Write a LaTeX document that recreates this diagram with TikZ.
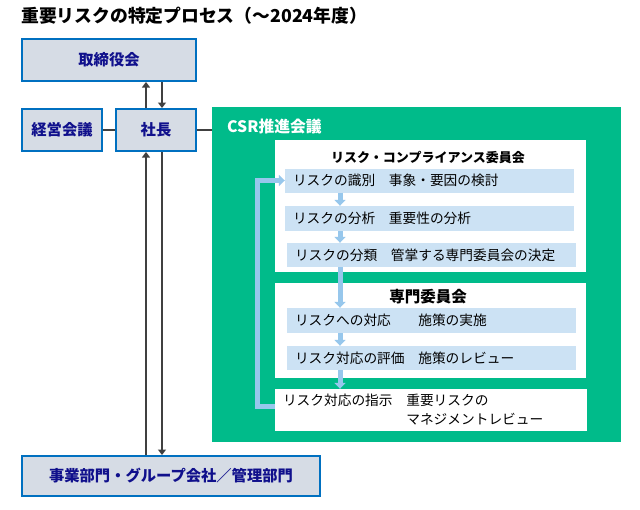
\documentclass[tikz,border=0pt]{standalone}
\usepackage{fontspec}
\setmainfont{Noto Sans CJK JP}
\usepackage{tikz}
\usetikzlibrary{
  calc,positioning,
  arrows.meta
}
\definecolor{boxfill}{RGB}{214,220,229}
\definecolor{boxline}{RGB}{0,112,192}
\definecolor{navy}{RGB}{16,16,140}
\definecolor{csrgreen}{RGB}{0,187,138}
\definecolor{barblue}{RGB}{204,226,244}
\definecolor{flowblue}{RGB}{151,199,236}
\definecolor{linegrey}{RGB}{64,64,64}

\begin{document}
\begin{tikzpicture}[x=1pt,y=-1pt,
  orgbox/.style={draw=boxline,line width=2pt,fill=boxfill,text=navy,inner sep=0pt,
    minimum height=42pt,font=\bfseries\fontsize{15.3}{18}\selectfont},
  panel/.style={fill=white,inner sep=0pt},
  paneltitle/.style={inner sep=0pt,font=\bfseries\fontsize{14}{17}\selectfont},
  bar/.style={fill=barblue,minimum height=24pt,text width=273pt,inner xsep=8pt,
    inner ysep=0pt,align=left,font=\fontsize{13.7}{16}\selectfont},
  link/.style={draw=linegrey,line width=1.5pt},
  linkarrow/.style={link,-{Triangle[width=8pt,length=5.5pt]}},
  flow/.style={draw=flowblue,line width=5pt,-{Triangle[width=11pt,length=6pt]}}
]
\useasboundingbox (0,0) rectangle (640,509);

\node[anchor=west,inner sep=0pt,font=\bfseries\fontsize{17.8}{21}\selectfont] (title) at (21,16) {重要リスクの特定プロセス（～2024年度）};

\node[orgbox,minimum width=174pt] (board) at (109,60) {取締役会};
\node[orgbox,minimum width=80pt] (mgmt) at (62,130) {経営会議};
\node[orgbox,minimum width=80pt] (pres) at (156,130) {社長};
\node[orgbox,minimum width=298pt,minimum height=40pt] (dept) at (171,476) {事業部門・グループ会社／管理部門};

\node[fill=csrgreen,inner sep=0pt,minimum width=409pt,minimum height=335pt] (csr) at (416.5,274.5) {};
\node[anchor=west,inner sep=0pt,text=white,font=\bfseries\fontsize{15.8}{18}\selectfont] (csrlabel) at (227,127) {CSR推進会議};

\node[panel,minimum width=311pt,minimum height=132pt] (rcc) at (430.5,206) {};
\node[paneltitle,font=\bfseries\fontsize{13}{16}\selectfont] (rcctitle) at (428,157) {リスク・コンプライアンス委員会};
\node[bar] (identify) at (429.5,180.5) {リスクの識別　事象・要因の検討};
\node[bar,minimum height=25pt] (analyze) at (429.5,218.5) {リスクの分析　重要性の分析};
\node[bar] (classify) at (431.5,255) {リスクの分類　管掌する専門委員会の決定};

\node[panel,minimum width=311pt,minimum height=95pt] (spc) at (430.5,330.5) {};
\node[paneltitle,font=\bfseries\fontsize{15.5}{18}\selectfont] (spctitle) at (428,297) {専門委員会};
\node[bar,minimum height=25pt] (respond) at (431.5,320.5) {リスクへの対応　　施策の実施};
\node[bar] (evaluate) at (431.5,358) {リスク対応の評価　施策のレビュー};

\node[panel,minimum width=312pt,minimum height=42pt,text width=296pt,inner xsep=8pt,align=left,
  font=\fontsize{13.7}{19}\selectfont] (review) at (431,410) {リスク対応の指示　重要リスクの\\\hspace*{9em}マネジメントレビュー};

\draw[link] (mgmt) -- (pres);
\draw[link] (pres) -- (pres -| csr.west);
\draw[linkarrow] ([xshift=-10pt]pres.north) -- ([xshift=-10pt]pres.north |- board.south);
\draw[linkarrow] ([xshift=6pt]pres.north |- board.south) -- ([xshift=6pt]pres.north);
\draw[linkarrow] ([xshift=-10pt]pres.south |- dept.north) -- ([xshift=-10pt]pres.south);
\draw[linkarrow] ([xshift=6pt]pres.south) -- ([xshift=6pt]pres.south |- dept.north);

\coordinate (flowx) at (340,0);
\draw[flow] (identify.south -| flowx) -- (analyze.north -| flowx);
\draw[flow] (analyze.south -| flowx) -- (classify.north -| flowx);
\draw[flow] (classify.south -| flowx) -- (respond.north -| flowx);
\draw[flow] (respond.south -| flowx) -- (evaluate.north -| flowx);
\draw[flow] (evaluate.south -| flowx) -- (review.north -| flowx);
\draw[flow] ([yshift=4pt]review.west) -- ++(-17,0) |- (identify.west);
\end{tikzpicture}
\end{document}
